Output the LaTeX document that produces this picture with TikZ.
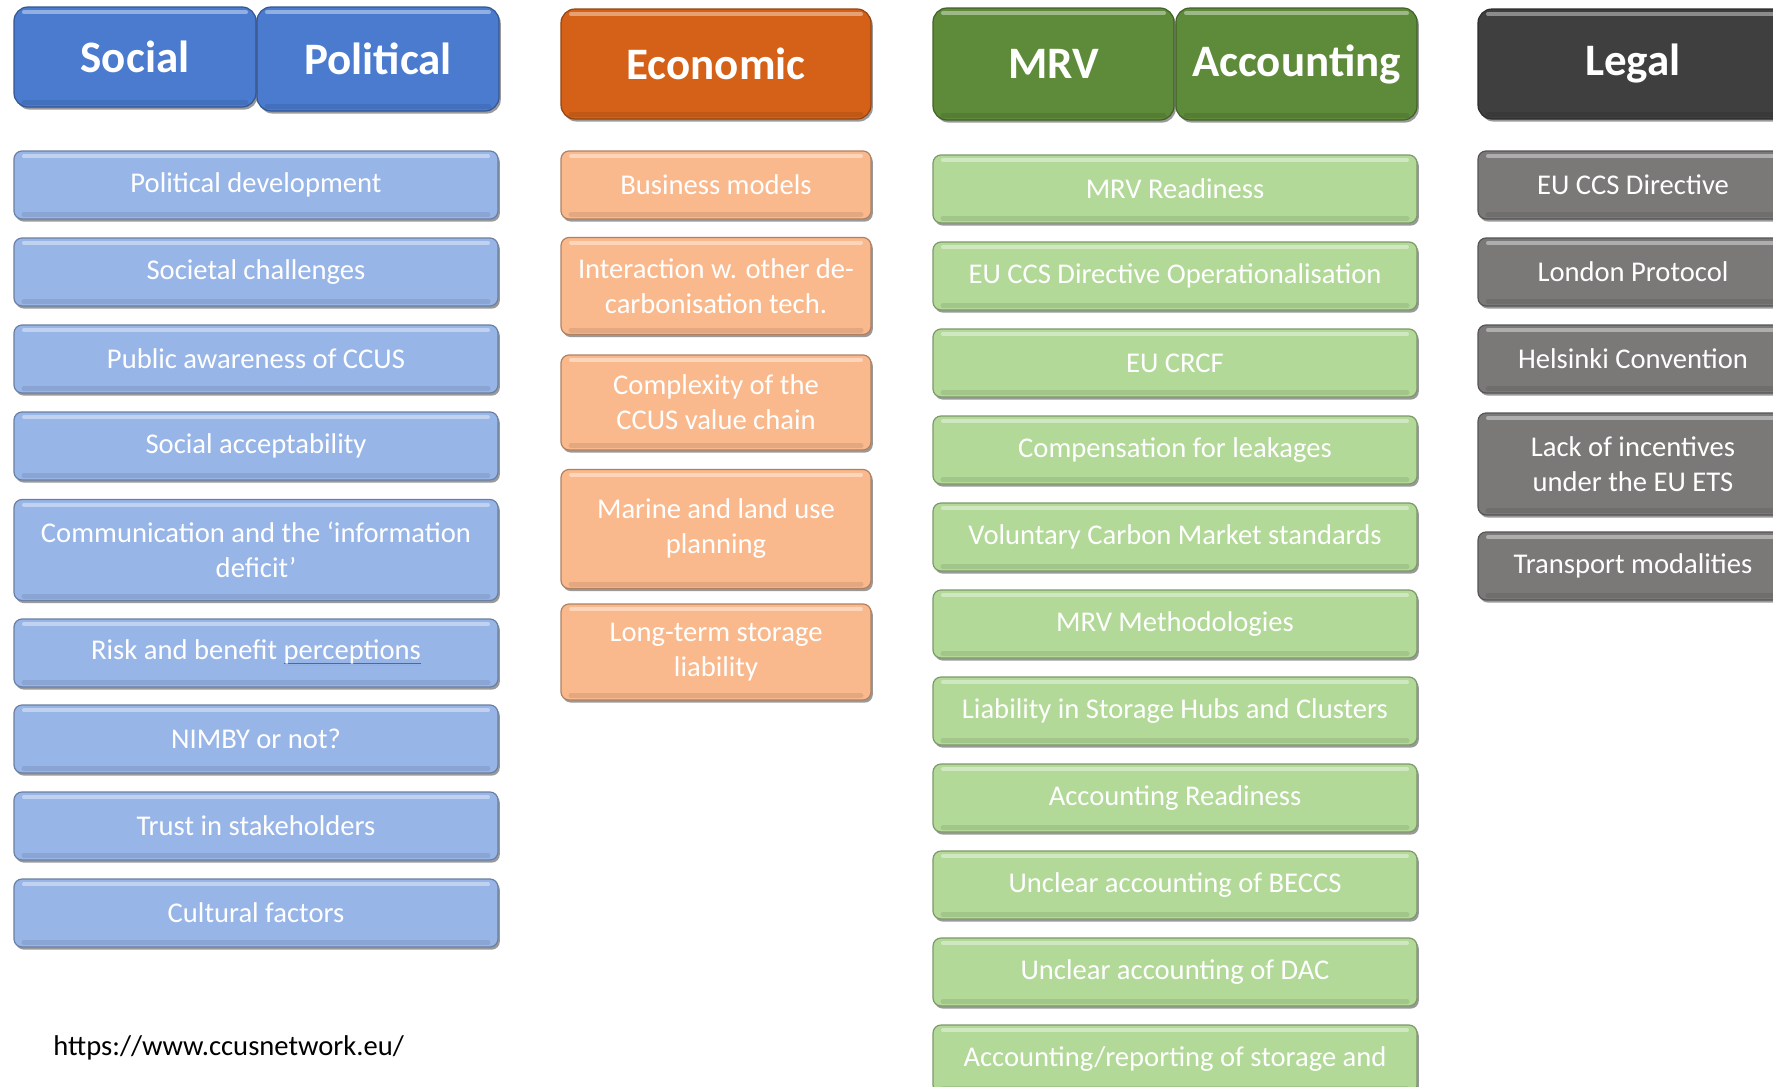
\documentclass[tikz,border=0pt]{standalone}
\usepackage{fontspec}
\setmainfont{Carlito}
\usetikzlibrary{calc}
\usetikzlibrary{shadows}

\definecolor{socialhead}{HTML}{4A7BCF}
\definecolor{socialfill}{HTML}{98B5E8}
\definecolor{econhead}{HTML}{D46117}
\definecolor{econfill}{HTML}{FAB98C}
\definecolor{mrvhead}{HTML}{5E8B3A}
\definecolor{mrvfill}{HTML}{B2D998}
\definecolor{legalhead}{HTML}{3F3F3F}
\definecolor{legalfill}{HTML}{7B7878}
\definecolor{markblue}{HTML}{3A66D8}
\definecolor{marklight}{HTML}{8FB0F0}

\newcommand{\itemfont}{\fontsize{14.3}{17.5}\selectfont}
\newcommand{\headfont}{\fontsize{22.5}{27}\selectfont\bfseries}
% blue double line under a word
\newcommand{\spellmark}[1]{\setbox0\hbox{#1}%
  \rlap{\color{markblue}\rule[-2.2pt]{\wd0}{0.7pt}}%
  \rlap{\color{marklight}\rule[-3.2pt]{\wd0}{0.6pt}}\box0}

\tikzset{
  bevel/.style={rounded corners=4pt, line width=0.6pt, align=center, inner sep=0pt, text=white,
    fill=#1, draw=#1!70!black,
    drop shadow={shadow xshift=0.9pt, shadow yshift=-1.3pt, fill=black, opacity=0.4},
    path picture={
      \draw[white, opacity=0.4, line width=2pt, line cap=round]
        ($(path picture bounding box.north west)+(5pt,-2.6pt)$) -- ($(path picture bounding box.north east)+(-5pt,-2.6pt)$);
      \draw[#1!55!black, opacity=0.2, line width=2.5pt, line cap=round]
        ($(path picture bounding box.south west)+(5pt,2.2pt)$) -- ($(path picture bounding box.south east)+(-5pt,2.2pt)$);
    }},
  head/.style={bevel=#1, rounded corners=7pt, font=\headfont},
  socialitem/.style={bevel=socialfill, font=\itemfont, minimum width=242pt, minimum height=34pt},
  econitem/.style={bevel=econfill, font=\itemfont, minimum width=155pt, minimum height=34pt},
  mrvitem/.style={bevel=mrvfill, font=\itemfont, minimum width=242pt, minimum height=34pt},
  legalitem/.style={bevel=legalfill, font=\itemfont, minimum width=155pt, minimum height=34pt},
}

\begin{document}
\begin{tikzpicture}[x=0.5pt,y=-0.5pt]
  \useasboundingbox (0,0) rectangle (1773,1087);
  \clip (0,0) rectangle (1773,1087);

  \coordinate (col1) at (256,0);
  \coordinate (col2) at (716,0);
  \coordinate (col3) at (1175,0);
  \coordinate (col4) at (1633,0);

  % headers
  \node[head=socialhead, minimum width=121pt, minimum height=50pt] (social) at (135,57) {Social};
  \node[head=socialhead, minimum width=121pt, minimum height=52pt] (political) at (378,59) {Political};
  \node[head=econhead, minimum width=155pt, minimum height=55pt] (economic) at ($(col2)+(0,64)$) {Economic};
  \node[head=mrvhead, minimum width=120.5pt, minimum height=56pt] (mrv) at (1053.5,64) {MRV};
  \node[head=mrvhead, minimum width=120.5pt, minimum height=56pt] (accounting) at (1296.5,64) {Accounting};
  \node[head=legalhead, minimum width=155pt, minimum height=55pt] (legal) at ($(col4)+(0,64)$) {Legal};

  % social / political
  \node[socialitem] (poldev) at ($(col1)+(0,185)$) {Political development};
  \node[socialitem] (societal) at ($(col1)+(0,272)$) {Societal challenges};
  \node[socialitem] (awareness) at ($(col1)+(0,359)$) {Public awareness of CCUS};
  \node[socialitem] (accept) at ($(col1)+(0,446)$) {Social acceptability};
  \node[socialitem, minimum height=50.5pt] (comm) at ($(col1)+(0,550)$) {Communication and the `information\\deficit'};
  \node[socialitem] (risk) at ($(col1)+(0,653)$) {Risk and benefit \spellmark{perceptions}};
  \node[socialitem] (nimby) at ($(col1)+(0,739)$) {NIMBY or not?};
  \node[socialitem] (trust) at ($(col1)+(0,826)$) {Trust in stakeholders};
  \node[socialitem] (cultural) at ($(col1)+(0,913)$) {Cultural factors};

  % economic
  \node[econitem] (business) at ($(col2)+(0,185)$) {Business models};
  \node[econitem, minimum height=48.5pt] (interaction) at ($(col2)+(0,286)$) {Interaction w. other de-\\carbonisation tech.};
  \node[econitem, minimum height=47.5pt] (complexity) at ($(col2)+(0,402.5)$) {Complexity of the\\CCUS value chain};
  \node[econitem, minimum height=59.5pt] (marine) at ($(col2)+(0,529)$) {Marine and land use\\planning};
  \node[econitem, minimum height=48pt] (longterm) at ($(col2)+(0,652)$) {Long-term storage\\liability};

  % MRV / accounting
  \node[mrvitem] (mrvready) at ($(col3)+(0,189)$) {MRV Readiness};
  \node[mrvitem] (ccsop) at ($(col3)+(0,276)$) {EU CCS Directive Operationalisation};
  \node[mrvitem] (crcf) at ($(col3)+(0,363)$) {EU CRCF};
  \node[mrvitem] (leakage) at ($(col3)+(0,450)$) {Compensation for leakages};
  \node[mrvitem] (voluntary) at ($(col3)+(0,537)$) {Voluntary Carbon Market standards};
  \node[mrvitem] (methods) at ($(col3)+(0,624)$) {MRV Methodologies};
  \node[mrvitem] (hubs) at ($(col3)+(0,711)$) {Liability in Storage Hubs and Clusters};
  \node[mrvitem] (accready) at ($(col3)+(0,798)$) {Accounting Readiness};
  \node[mrvitem] (beccs) at ($(col3)+(0,885)$) {Unclear accounting of BECCS};
  \node[mrvitem] (dac) at ($(col3)+(0,972)$) {Unclear accounting of DAC};
  \node[mrvitem] (reporting) at ($(col3)+(0,1059)$) {Accounting/reporting of storage and};

  % legal
  \node[legalitem] (eudir) at ($(col4)+(0,185)$) {EU CCS Directive};
  \node[legalitem] (london) at ($(col4)+(0,272)$) {London Protocol};
  \node[legalitem] (helsinki) at ($(col4)+(0,359)$) {Helsinki Convention};
  \node[legalitem, minimum height=51pt] (incentives) at ($(col4)+(0,464)$) {Lack of incentives\\under the EU ETS};
  \node[legalitem] (transport) at ($(col4)+(0,566)$) {Transport modalities};

  \node[anchor=west, inner sep=0pt, font=\itemfont] (url) at (53,1048) {https://www.ccusnetwork.eu/};
\end{tikzpicture}
\end{document}
